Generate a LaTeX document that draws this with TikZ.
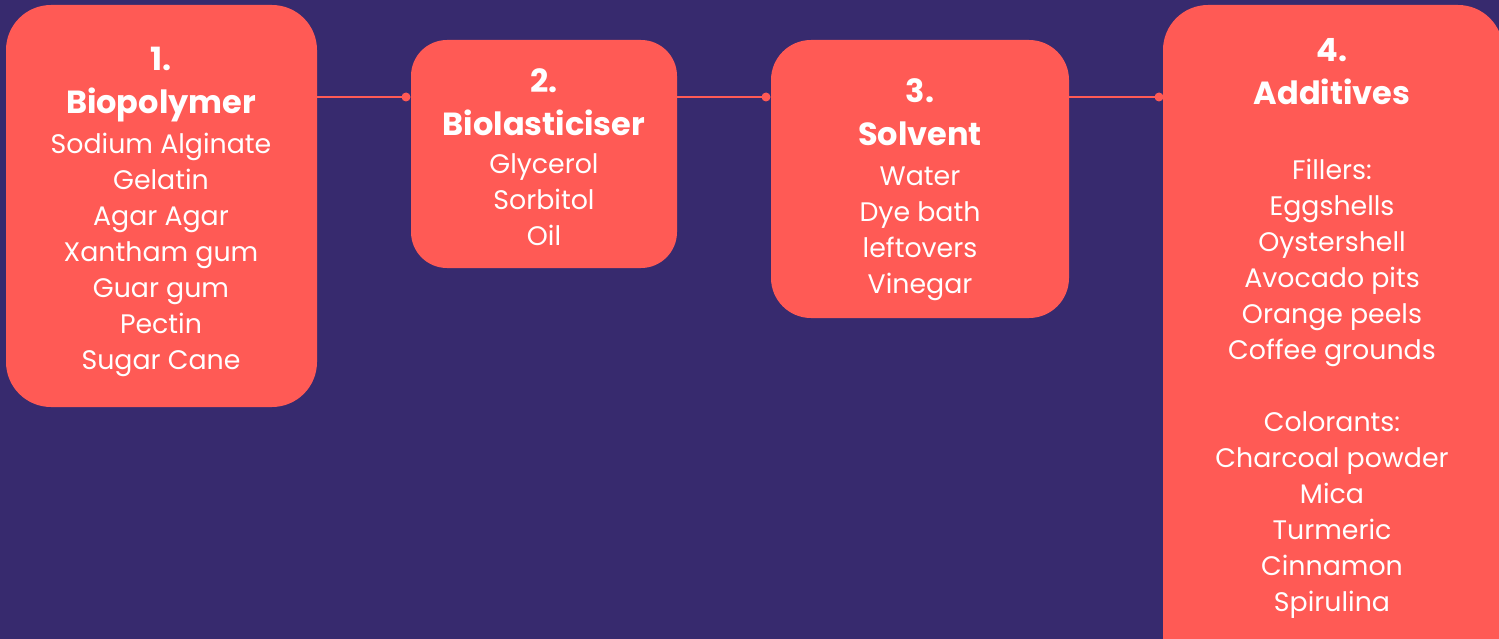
\documentclass[tikz,border=0pt]{standalone}
\usepackage{fontspec}
\setmainfont{Poppins}
\usetikzlibrary{positioning}
\definecolor{bgpurple}{HTML}{372A6E}
\definecolor{coral}{HTML}{FF5A55}
\tikzset{
  stepbox/.style={fill=coral, inner sep=0pt},
  head/.style={text=white, align=center, inner sep=0pt, font=\bfseries\fontsize{32}{43}\selectfont},
  items/.style={text=white, align=center, inner sep=0pt, font=\fontsize{26.8}{36}\selectfont},
  link/.style={draw=coral, line width=2pt}
}
\begin{document}
\begin{tikzpicture}[x=1pt,y=-1pt]
\clip (0,0) rectangle (1499,639);
\fill[bgpurple] (0,0) rectangle (1499,639);
% the four steps
\node[stepbox, rounded corners=45pt, minimum width=311pt, minimum height=402pt] (b1) at (161.5,206) {};
\node[stepbox, rounded corners=36pt, minimum width=266pt, minimum height=228pt] (b2) at (544,154) {};
\node[stepbox, rounded corners=40pt, minimum width=298pt, minimum height=278pt] (b3) at (920,179) {};
\node[stepbox, rounded corners=45pt, minimum width=340pt, minimum height=680pt] (b4) at (1333,345) {};
% titles
\node[head] (h1) at (161,85) {1.\\Biopolymer};
\node[head] (h2) at (544,102) {2.\\Biolasticiser};
\node[head] (h3) at (920,112) {3.\\Solvent};
\node[head] (h4) at (1332,72) {4.\\Additives};
% lists
\node[items] (l1) at (161,255) {Sodium Alginate\\Gelatin\\Agar Agar\\Xantham gum\\Guar gum\\Pectin\\Sugar Cane};
\node[items] (l2) at (544,200) {Glycerol\\Sorbitol\\Oil};
\node[items] (l3) at (920,234) {Water\\Dye bath\\leftovers\\Vinegar};
\node[items] (l4) at (1332,389) {Fillers:\\Eggshells\\Oystershell\\Avocado pits\\Orange peels\\Coffee grounds\\~\\Colorants:\\Charcoal powder\\Mica\\Turmeric\\Cinnamon\\Spirulina};
% connectors
\coordinate (c1) at (406,97);
\coordinate (c2) at (766,97);
\coordinate (c3) at (1159,97);
\draw[link] (b1.east |- c1) -- (c1);
\draw[link] (b2.east |- c2) -- (c2);
\draw[link] (b3.east |- c3) -- (c3);
\foreach \c in {c1,c2,c3}
  \fill[coral] (\c) circle (4.5pt);
\end{tikzpicture}
\end{document}
